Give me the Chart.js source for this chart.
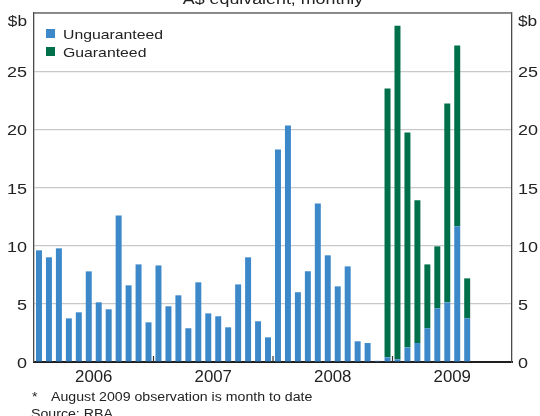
<!DOCTYPE html>
<html>
<head>
<meta charset="utf-8">
<script src="https://cdn.jsdelivr.net/npm/chart.js@4.4.1/dist/chart.umd.min.js"></script>
<style>
  html, body { margin: 0; padding: 0; background: #ffffff; }
  #wrap { width: 540px; height: 416px; position: relative; }
</style>
</head>
<body>
<div id="wrap"><canvas id="c" width="540" height="416"></canvas></div>
<script>
// ---- Data (A$ billion, monthly) ----
const categories = [
  'Jan-06','Feb-06','Mar-06','Apr-06','May-06','Jun-06','Jul-06','Aug-06','Sep-06','Oct-06','Nov-06','Dec-06',
  'Jan-07','Feb-07','Mar-07','Apr-07','May-07','Jun-07','Jul-07','Aug-07','Sep-07','Oct-07','Nov-07','Dec-07',
  'Jan-08','Feb-08','Mar-08','Apr-08','May-08','Jun-08','Jul-08','Aug-08','Sep-08','Oct-08','Nov-08','Dec-08',
  'Jan-09','Feb-09','Mar-09','Apr-09','May-09','Jun-09','Jul-09','Aug-09','Sep-09','Oct-09','Nov-09','Dec-09'
];
const unguaranteed = [
  9.6, 9.0, 9.77, 3.75, 4.27, 7.79, 5.13, 4.53, 12.6, 6.59, 8.39, 3.41,
  8.3, 4.79, 5.73, 2.9, 6.85, 4.18, 3.93, 2.98, 6.67, 9.0, 3.5, 2.12,
  18.27, 20.33, 6.0, 7.8, 13.63, 9.17, 6.5, 8.22, 1.78, 1.63, 0.1, 0.4,
  0.23, 1.26, 1.63, 2.9, 4.61, 5.13, 11.66, 3.75, null, null, null, null
];
const guaranteed = [
  null, null, null, null, null, null, null, null, null, null, null, null,
  null, null, null, null, null, null, null, null, null, null, null, null,
  null, null, null, null, null, null, null, null, null, null, null, 23.1,
  28.67, 18.47, 12.27, 5.49, 5.33, 17.1, 15.54, 3.44, null, null, null, null
];
const yearLabels = ['2006', '2007', '2008', '2009'];
const yTicks = [0, 5, 10, 15, 20, 25, 30];
const seriesNames = ['Unguaranteed', 'Guaranteed'];
const titleText = 'A$ equivalent, monthly';
const unitText = '$b';
const footnoteStar = '*';
const footnoteText = 'August 2009 observation is month to date';
const sourceText = 'Source: RBA';

const BLUE = '#3d88c9';
const GREEN = '#00704a';
const FONT = '"Liberation Sans", Arial, Helvetica, sans-serif';

function stretchText(ctx, text, x, y, size, sx, align, color) {
  ctx.save();
  ctx.font = size + 'px ' + FONT;
  ctx.fillStyle = color || '#222222';
  ctx.textAlign = align || 'left';
  ctx.textBaseline = 'alphabetic';
  ctx.translate(x, y);
  ctx.scale(sx, 1);
  ctx.fillText(text, 0, 0);
  ctx.restore();
}

const decorPlugin = {
  id: 'decor',
  beforeDatasetsDraw(chart) {
    // nothing extra before bars (gridlines drawn by Chart.js)
  },
  afterDraw(chart) {
    const ctx = chart.ctx;
    const area = chart.chartArea;
    const xs = chart.scales.x;
    const ys = chart.scales.y;

    // top border
    ctx.save();
    ctx.strokeStyle = '#6e6e6e';
    ctx.lineWidth = 1.3;
    ctx.beginPath();
    ctx.moveTo(area.left, area.top);
    ctx.lineTo(area.right, area.top);
    ctx.stroke();
    ctx.restore();

    // year boundary ticks (pointing up from axis)
    ctx.save();
    ctx.strokeStyle = '#333333';
    ctx.lineWidth = 1.2;
    for (let i = 1; i < yearLabels.length; i++) {
      const k = i * 12;
      const bx = (xs.getPixelForValue(k - 1) + xs.getPixelForValue(k)) / 2;
      ctx.beginPath();
      ctx.moveTo(bx, area.bottom);
      ctx.lineTo(bx, area.bottom - 6);
      ctx.stroke();
    }
    ctx.restore();

    // year labels
    yearLabels.forEach((lab, i) => {
      const cx = (xs.getPixelForValue(i * 12) + xs.getPixelForValue(i * 12 + 11)) / 2;
      stretchText(ctx, lab, cx, area.bottom + 19.5, 16, 1.05, 'center');
    });

    // y tick labels both sides
    yTicks.forEach(v => {
      if (v === 30) return;
      const py = ys.getPixelForValue(v) + 6;
      stretchText(ctx, String(v), area.left - 7, py, 15, 1.2, 'right');
      stretchText(ctx, String(v), area.right + 6, py, 15, 1.2, 'left');
    });
    // unit labels
    stretchText(ctx, unitText, area.left - 7, 26, 15, 1.15, 'right');
    stretchText(ctx, unitText, area.right + 6, 26, 15, 1.15, 'left');

    // title (partially cut at top)
    stretchText(ctx, titleText, (area.left + area.right) / 2, 4, 15.5, 1.15, 'center');

    // legend
    chart.data.datasets.forEach((ds, i) => {
      const top = area.top + 16 + i * 18;
      ctx.save();
      ctx.fillStyle = ds.backgroundColor;
      ctx.fillRect(area.left + 12, top, 9, 9);
      ctx.restore();
      stretchText(ctx, ds.label, area.left + 29, top + 10, 13.5, 1.17, 'left');
    });

    // footnotes
    stretchText(ctx, footnoteStar, 32, 400.5, 12, 1.18, 'left');
    stretchText(ctx, footnoteText, 51, 400.5, 12, 1.18, 'left');
    stretchText(ctx, sourceText, 31, 417.5, 12, 1.18, 'left');
  }
};

new Chart(document.getElementById('c'), {
  type: 'bar',
  data: {
    labels: categories,
    datasets: [
      { label: seriesNames[0], data: unguaranteed, backgroundColor: BLUE, borderWidth: 0,
        categoryPercentage: 1.0, barPercentage: 0.6, yAxisID: 'y' },
      { label: seriesNames[1], data: guaranteed, backgroundColor: GREEN, borderWidth: 0,
        categoryPercentage: 1.0, barPercentage: 0.6, yAxisID: 'y' }
    ]
  },
  options: {
    responsive: false,
    animation: false,
    events: [],
    layout: { padding: { top: 13, left: 0, right: 0, bottom: 0 } },
    plugins: { legend: { display: false }, tooltip: { enabled: false }, title: { display: false } },
    scales: {
      x: {
        stacked: true,
        grid: { display: false, drawTicks: false },
        border: { display: true, color: '#1e1e1e', width: 2 },
        ticks: { display: false },
        afterFit(scale) { scale.height = 54; }
      },
      y: {
        stacked: true,
        position: 'left',
        min: 0, max: 30,
        afterBuildTicks(scale) { scale.ticks = yTicks.map(v => ({ value: v })); },
        grid: { color: '#c9c9c9', lineWidth: 1.2, drawTicks: false },
        border: { display: true, color: '#4a4a4a', width: 1.3 },
        ticks: { display: false },
        afterFit(scale) { scale.width = 34; }
      },
      y1: {
        position: 'right',
        min: 0, max: 30,
        grid: { display: false, drawTicks: false },
        border: { display: true, color: '#4a4a4a', width: 1.3 },
        ticks: { display: false },
        afterFit(scale) { scale.width = 28; }
      }
    }
  },
  plugins: [decorPlugin]
});
</script>
</body>
</html>
